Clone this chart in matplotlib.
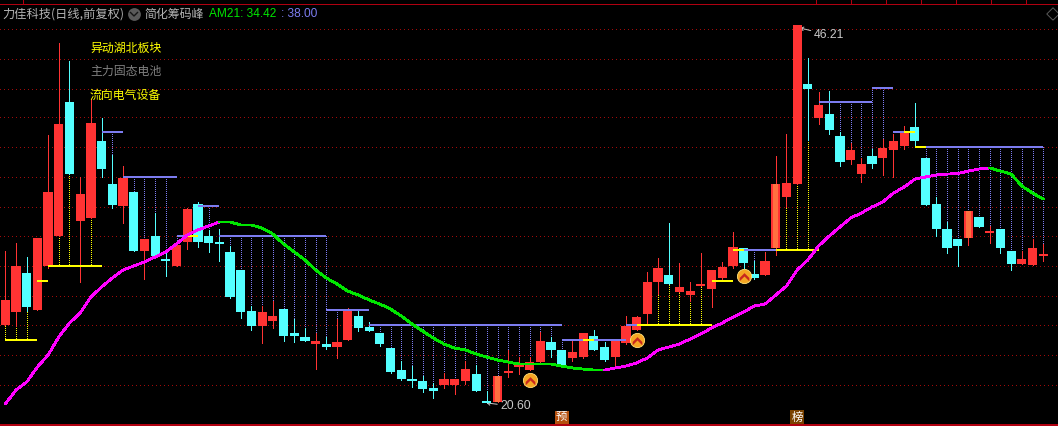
import numpy as np
import matplotlib
matplotlib.use('Agg')
import matplotlib.pyplot as plt
from matplotlib.path import Path

CJK = ['Noto Sans CJK SC', 'DejaVu Sans']
LATIN = ['Liberation Sans', 'DejaVu Sans']

# ----- candles -----
opens = [25.88, 26.76, 29.40, 26.90, 29.88, 31.91, 40.99, 32.93, 33.13, 38.35,
         35.43, 33.94, 34.89, 30.89, 31.91, 30.35, 29.88, 31.50, 34.08, 31.91,
         31.44, 30.83, 29.61, 26.83, 25.81, 26.15, 26.97, 25.34, 25.07, 24.59,
         24.59, 24.39, 24.87, 26.49, 25.75, 25.34, 24.32, 22.83, 22.16, 22.09,
         21.61, 21.82, 21.82, 22.09, 22.56, 20.66, 20.66, 22.63, 23.04, 22.83,
         23.37, 24.73, 24.19, 23.65, 23.71, 25.14, 24.39, 23.71, 24.66, 25.54,
         26.63, 28.79, 29.27, 28.12, 27.91, 28.52, 28.32, 29.07, 29.88, 31.10,
         29.34, 29.27, 31.10, 34.55, 35.43, 42.21, 39.91, 40.18, 38.69, 37.06,
         36.11, 37.33, 37.20, 37.74, 38.01, 39.30, 37.20, 34.08, 32.39, 31.71,
         31.78, 33.20, 32.11, 32.39, 30.89, 30.01, 29.95, 30.56]
closes = [27.58, 29.88, 27.10, 31.78, 34.89, 39.50, 36.11, 34.76, 39.57, 36.45,
          34.01, 35.84, 30.89, 31.71, 30.56, 30.22, 31.30, 33.74, 31.50, 31.44,
          31.37, 27.78, 26.76, 25.81, 26.76, 26.49, 25.14, 25.14, 24.80, 24.80,
          24.39, 24.73, 26.83, 25.68, 25.47, 24.59, 22.70, 22.22, 22.09, 21.55,
          21.41, 22.22, 22.22, 22.90, 21.41, 20.60, 22.43, 22.76, 23.17, 23.37,
          24.80, 24.19, 23.04, 24.05, 25.34, 24.19, 23.51, 24.80, 25.81, 26.42,
          28.79, 29.74, 28.66, 28.46, 28.18, 28.59, 29.61, 29.81, 31.17, 30.08,
          29.07, 30.22, 35.43, 35.50, 46.21, 41.87, 40.79, 39.09, 36.92, 37.74,
          36.79, 36.79, 37.87, 38.35, 38.89, 38.35, 34.01, 32.39, 31.10, 31.23,
          33.60, 32.52, 32.18, 31.10, 30.01, 30.35, 31.10, 30.62]
highs = [30.89, 31.44, 30.49, 31.78, 38.75, 44.99, 43.77, 35.91, 41.19, 39.91,
         37.40, 36.65, 34.89, 31.71, 33.47, 31.03, 31.30, 33.81, 34.21, 32.32,
         32.39, 31.23, 29.61, 27.17, 27.17, 27.51, 26.97, 26.29, 25.68, 25.34,
         25.07, 26.29, 27.03, 26.90, 26.08, 25.34, 24.32, 23.44, 23.10, 22.43,
         21.95, 22.63, 22.22, 23.44, 23.17, 21.41, 22.43, 24.19, 23.71, 23.71,
         25.41, 25.07, 24.19, 24.80, 25.34, 25.54, 24.73, 24.80, 26.49, 26.49,
         29.47, 30.42, 32.79, 30.08, 28.79, 30.76, 29.61, 30.15, 32.18, 31.10,
         30.22, 30.83, 37.33, 38.82, 46.21, 43.97, 41.67, 41.73, 38.96, 38.21,
         37.20, 37.81, 38.48, 38.82, 39.36, 40.93, 37.20, 34.55, 32.86, 31.71,
         33.60, 33.20, 32.59, 32.39, 30.89, 30.89, 31.71, 31.37]
lows = [25.88, 25.81, 26.83, 26.90, 29.74, 31.91, 36.11, 28.79, 33.13, 35.91,
        33.81, 32.79, 30.89, 29.00, 30.56, 29.20, 29.88, 31.03, 31.17, 30.83,
        30.22, 27.71, 26.36, 25.54, 24.66, 25.68, 24.80, 24.73, 24.80, 22.90,
        24.26, 23.65, 24.87, 25.47, 25.47, 24.46, 22.63, 22.16, 21.68, 21.34,
        20.94, 21.61, 21.21, 21.88, 21.41, 20.60, 20.66, 22.36, 22.56, 22.83,
        23.37, 23.71, 23.04, 23.44, 23.65, 24.19, 23.44, 23.10, 24.59, 25.54,
        26.02, 27.98, 28.66, 28.12, 27.51, 28.52, 27.10, 28.86, 29.74, 29.74,
        29.00, 29.27, 30.62, 33.88, 35.43, 38.41, 39.50, 38.82, 36.65, 36.79,
        35.57, 36.52, 36.04, 35.91, 37.81, 38.08, 34.01, 31.91, 30.76, 29.88,
        31.30, 32.52, 31.44, 30.76, 29.61, 30.01, 29.95, 30.22]
limit_up = [46, 72, 90]

am21 = [20.53, 21.48, 22.02, 23.04, 23.85, 25.07, 26.02, 26.69, 27.78, 28.46,
        29.07, 29.61, 29.88, 30.15, 30.49, 30.83, 31.37, 31.98, 32.32, 32.59,
        32.86, 32.86, 32.66, 32.66, 32.45, 32.05, 31.37, 30.83, 30.29, 29.61,
        29.07, 28.66, 28.18, 27.91, 27.58, 27.30, 26.97, 26.49, 25.95, 25.47,
        25.00, 24.59, 24.32, 24.19, 23.92, 23.71, 23.51, 23.37, 23.24, 23.24,
        23.24, 23.24, 23.10, 22.97, 22.90, 22.83, 22.83, 22.97, 23.10, 23.31,
        23.65, 24.19, 24.39, 24.59, 24.93, 25.27, 25.68, 26.02, 26.42, 26.76,
        27.17, 27.30, 27.91, 28.52, 29.61, 30.29, 31.23, 31.91, 32.52, 33.13,
        33.47, 33.88, 34.21, 34.82, 35.23, 35.77, 35.91, 36.04, 36.11, 36.14,
        36.31, 36.45, 36.52, 36.31, 36.11, 35.30, 34.82, 34.42]

# chip peak levels: first candle, last candle, price, kind, candles with a dotted drop
peak_from = [0, 3, 4, 9, 11, 16, 17, 18, 20, 30, 34, 52, 54, 58, 59, 66, 68, 69, 72, 76, 81, 83, 84, 85, 86]
peak_to = [3, 4, 9, 11, 16, 17, 18, 20, 30, 34, 52, 58, 55, 59, 66, 68, 69, 72, 76, 81, 83, 84, 85, 86, 97]
peak_price = [24.87, 28.86, 29.88, 38.96, 35.91, 31.91, 31.91, 33.94, 31.91, 26.90, 25.88, 24.87, 24.87,
              25.88, 25.88, 28.86, 30.96, 30.96, 30.96, 40.99, 41.94, 38.96, 38.96, 37.94, 37.94]
peak_kind = ['y', 'y', 'y', 'b', 'b', 'b', 'y', 'b', 'b', 'b', 'b', 'b', 'y',
             'b', 'y', 'y', 'y', 'b', 'y', 'b', 'b', 'b', 'y', 'y', 'b']
peak_drops = [[0, 1, 2], [], [5, 6, 8], [10], [12, 13, 14, 15], [16], [], [19],
              list(range(21, 31)), [31], list(range(35, 52)), [52], [], [],
              list(range(60, 66)), [], [], [70], [73, 74, 75], [78, 79, 80], [81, 82],
              [], [], [], list(range(86, 98))]

coin_idx = [49, 59, 69]
coin_price = [22.16, 24.87, 29.20]
grid_prices = [45.94, 43.92, 41.89, 39.95, 37.92, 35.89, 33.90, 31.89, 29.86, 27.87, 25.86, 23.83, 21.80]
notes = ['异动湖北板块', '主力固态电池', '流向电气设备']

RED = '#FF3333'
CYAN = '#54FFFF'
ORANGE = '#FF7040'
BLUE = '#7C7CF0'
YELLOW = '#FFFF00'
MAGENTA = '#FF00FF'
GREEN = '#00E600'
W, H = 1058, 426

fig = plt.figure(figsize=(W / 100, H / 100), dpi=100, facecolor='black')
ax = fig.add_axes([0, 0, 1, 1], facecolor='black')
ax.set_xlim(-0.495, 98.38)
ax.set_ylim(19.04, 47.90)
ax.axis('off')

# ----- grid -----
for p in grid_prices:
    ax.axhline(p, color='#A00A0A', lw=0.72, ls=(0, (1, 4)), antialiased=False, zorder=1)

# ----- chip peak lines and dotted drops -----
for a, b, p, kind, drops in zip(peak_from, peak_to, peak_price, peak_kind, peak_drops):
    col = YELLOW if kind == 'y' else BLUE
    for i in drops:
        end = highs[i] if highs[i] < p else lows[i]
        ax.plot([i, i], [p, end], color=col, lw=0.72, ls=(0, (1, 2)), antialiased=False, zorder=2)

# ----- candles -----
for i in range(len(opens)):
    col = RED if closes[i] >= opens[i] else CYAN
    ax.plot([i, i], [lows[i], highs[i]], color=col, lw=0.72, antialiased=False, zorder=3)
    bottom = min(opens[i], closes[i])
    height = max(abs(closes[i] - opens[i]), 0.14)
    ax.bar(i, height, 0.86, bottom=bottom, color=col, antialiased=False, zorder=4)
    if i in limit_up:
        ax.bar(i, height, 0.42, bottom=bottom, color=ORANGE, antialiased=False, zorder=5)

for a, b, p, kind in zip(peak_from, peak_to, peak_price, peak_kind):
    col = YELLOW if kind == 'y' else BLUE
    ax.plot([a, b], [p, p], color=col, lw=1.44, solid_capstyle='butt', snap=True,
            zorder=7 if kind == 'y' else 6)

# ----- AM21 -----
for i in range(1, len(am21)):
    col = MAGENTA if am21[i] > am21[i - 1] else GREEN
    ax.plot([i - 1, i], [am21[i - 1], am21[i]], color=col, lw=1.3, solid_capstyle='round',
            antialiased=False, zorder=8)

# ----- coin markers -----
chevron = Path([(-1, -0.3), (0, 0.7), (1, -0.3), (1, -1), (0, 0), (-1, -1), (-1, -0.3)])
ax.scatter(coin_idx, coin_price, s=105, color='#F5A623', edgecolors='#FFE27A', linewidths=0.6, zorder=9)
ax.scatter(coin_idx, coin_price, s=48, marker=chevron, color='#C8281E', linewidths=0, zorder=10)

# ----- high and low notes -----
arrow = dict(arrowstyle='->,head_length=0.2,head_width=0.15', color='#C8C8C8', lw=0.7, shrinkA=0, shrinkB=0)
ax.annotate('46.21', xy=(74.3, 46.0), xytext=(9.5, -5), textcoords='offset points', color='#C8C8C8',
            family=LATIN, fontsize=8.8, va='center', ha='left', arrowprops=arrow)
ax.annotate('20.60', xy=(45, 20.60), xytext=(9.5, -2.5), textcoords='offset points', color='#C8C8C8',
            family=LATIN, fontsize=8.8, va='center', ha='left', arrowprops=arrow)

# ----- event badges -----
ax.text(52, 19.63, '预', color='white', family=CJK, fontsize=8.2, ha='center', va='center', zorder=11,
        bbox=dict(boxstyle='square,pad=0.12', fc='#B5500F', ec='none'))
ax.text(74, 19.63, '榜', color='white', family=CJK, fontsize=8.2, ha='center', va='center', zorder=11,
        bbox=dict(boxstyle='square,pad=0.12', fc='#7A4200', ec='none'))

# ----- window chrome, in pixels -----
top = fig.add_axes([0, 0, 1, 1], facecolor='none')
top.set_xlim(0, W)
top.set_ylim(H, 0)
top.axis('off')
frame = '#B00010'
top.plot([0, W], [4.3, 4.3], color=frame, lw=0.72, antialiased=False)
top.plot([0, W], [424.6, 424.6], color=frame, lw=0.8, antialiased=False)
for x in [23, 816, 851, 886, 921, 956, 991, 1026]:
    top.plot([x, x], [0, 4], color=frame, lw=0.72, antialiased=False)

top.text(2, 14, '力佳科技(日线,前复权)', color='#B4B4B4', family=CJK, fontsize=8.8, va='center')
top.scatter([134], [14], s=85, color='#5A5A5A', linewidths=0)
top.plot([130.5, 134, 137.5], [12.5, 16, 12.5], color='#151515', lw=1)
top.text(144, 14, '简化筹码峰', color='#B4B4B4', family=CJK, fontsize=8.6, va='center')
top.text(209, 14, 'AM21: 34.42', color='#00E600', family=LATIN, fontsize=8.6, va='center')
top.text(281, 14, ': 38.00', color='#7C7CF0', family=LATIN, fontsize=8.6, va='center')
top.scatter([1053], [14], s=40, marker='D', facecolors='none', edgecolors='#5A5A5A', linewidths=0.7)

for txt, y, col in zip(notes, [48, 71, 95], [YELLOW, '#808080', YELLOW]):
    top.text(90, y, txt, color=col, family=CJK, fontsize=8.6, va='center')

fig.savefig('out.png', dpi=100, facecolor='black')
